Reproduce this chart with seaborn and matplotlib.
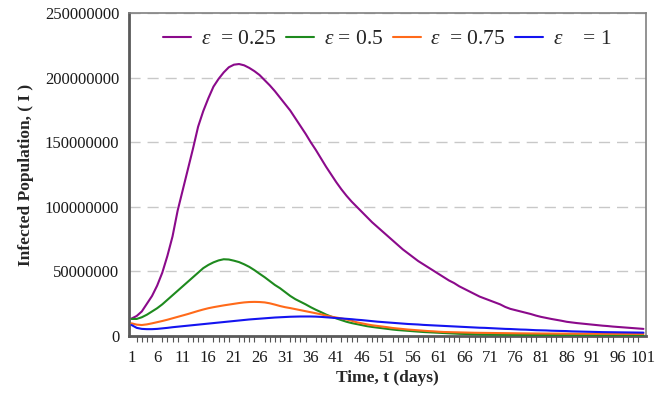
import matplotlib
matplotlib.use("Agg")
import matplotlib.pyplot as plt
import seaborn as sns
import pandas as pd
import numpy as np
from matplotlib.ticker import FixedLocator, FuncFormatter

# ---- data (values in millions) ----
days = list(range(1, 102))

eps_025 = [13.5, 15.5, 19, 25, 31, 39, 49, 62, 77, 97,
           113, 129, 145, 162, 174, 184, 193, 199, 204, 208,
           210, 210.5, 209.5, 207.5, 205, 202, 198, 194, 189.5, 184.5,
           179.5, 174.5, 168.5, 162.5, 156.5, 150, 144, 137.5, 131, 125,
           119, 113.5, 108.5, 104, 100, 96, 92, 88, 84.5, 81,
           77.5, 74, 70.5, 67, 64, 61, 58, 55.5, 53, 50.5,
           48, 45.5, 43, 41, 38.5, 36.5, 34.5, 32.5, 30.5, 29,
           27.5, 26, 24.5, 22.5, 21, 20, 19, 18, 17, 15.8,
           14.8, 14, 13.2, 12.5, 11.8, 11, 10.5, 10, 9.6, 9.2,
           8.8, 8.4, 8, 7.7, 7.3, 7, 6.7, 6.4, 6.1, 5.8, 5.5]

eps_05 = [13.2, 13.2, 14.5, 16.5, 19, 21.5, 24.5, 28, 31.5, 35,
          38.5, 42, 45.5, 49, 52.5, 55, 57, 58.5, 59.4, 59.2,
          58.3, 57.2, 55.5, 53.5, 51, 48.2, 45.5, 42.5, 39.5, 37,
          34, 31, 28.5, 26.5, 24.5, 22.3, 20.3, 18.5, 16.6, 15,
          13.6, 12.3, 11, 10, 9.2, 8.4, 7.6, 7, 6.5, 6,
          5.5, 5, 4.6, 4.3, 4, 3.7, 3.4, 3.1, 2.9, 2.7,
          2.5, 2.3, 2.1, 1.9, 1.7, 1.6, 1.5, 1.4, 1.3, 1.2,
          1.15, 1.1, 1.05, 1.0, 0.95, 0.9, 0.88, 0.85, 0.82, 0.8,
          0.78, 0.75, 0.72, 0.7, 0.68, 0.66, 0.64, 0.62, 0.6, 0.58,
          0.56, 0.54, 0.52, 0.5, 0.49, 0.48, 0.47, 0.46, 0.45, 0.44, 0.43]

eps_075 = [9.8, 8.8, 8.5, 9, 9.8, 10.7, 11.6, 12.6, 13.7, 14.8,
           15.9, 17, 18.2, 19.4, 20.5, 21.5, 22.3, 23, 23.7, 24.3,
           24.9, 25.5, 26, 26.3, 26.4, 26.3, 26, 25.3, 24.3, 23.2,
           22.3, 21.6, 20.8, 20, 19.2, 18.4, 17.6, 16.8, 15.8, 15,
           14.3, 13.6, 12.8, 11.8, 10.6, 9.8, 9, 8.3, 7.8, 7.3,
           6.8, 6.2, 5.8, 5.4, 5, 4.7, 4.4, 4.1, 3.8, 3.6,
           3.3, 3.1, 3.0, 2.9, 2.8, 2.7, 2.6, 2.5, 2.45, 2.4,
           2.35, 2.3, 2.25, 2.2, 2.15, 2.1, 2.06, 2.02, 1.98, 1.95,
           1.92, 1.9, 1.88, 1.86, 1.84, 1.82, 1.8, 1.78, 1.76, 1.74,
           1.72, 1.7, 1.69, 1.68, 1.67, 1.66, 1.65, 1.64, 1.63, 1.62, 1.61]

eps_1 = [8.5, 6.3, 5.5, 5.3, 5.3, 5.5, 5.9, 6.3, 6.8, 7.2,
         7.6, 8, 8.4, 8.8, 9.2, 9.6, 10, 10.4, 10.8, 11.2,
         11.6, 12, 12.4, 12.8, 13.1, 13.4, 13.7, 14, 14.3, 14.5,
         14.7, 14.9, 15, 15.1, 15.1, 15.1, 15, 14.8, 14.5, 14.2,
         13.9, 13.6, 13.3, 13, 12.6, 12.3, 11.9, 11.5, 11.1, 10.8,
         10.5, 10.2, 9.9, 9.6, 9.3, 9.1, 8.9, 8.6, 8.4, 8.2,
         8, 7.8, 7.6, 7.4, 7.2, 7.0, 6.8, 6.6, 6.4, 6.3,
         6.1, 5.9, 5.7, 5.5, 5.4, 5.2, 5.0, 4.9, 4.7, 4.5,
         4.4, 4.3, 4.1, 4.0, 3.9, 3.8, 3.6, 3.5, 3.4, 3.3,
         3.2, 3.1, 3.0, 2.95, 2.9, 2.85, 2.8, 2.75, 2.7, 2.65, 2.6]

series_labels = [r"$\varepsilon$  = 0.25", r"$\varepsilon$ = 0.5",
                 r"$\varepsilon$  = 0.75", r"$\varepsilon$    = 1"]
colors = ["#8B0A8B", "#1E8A1E", "#FF6A1A", "#1414F0"]
yticks = [0, 50000000, 100000000, 150000000, 200000000, 250000000]
xtick_labels = list(range(1, 102, 5))

# ---- build long table ----
frames = []
for lab, vals in zip(series_labels, [eps_025, eps_05, eps_075, eps_1]):
    frames.append(pd.DataFrame({"t": days, "I": np.array(vals) * 1e6, "s": lab}))
df = pd.concat(frames, ignore_index=True)

sns.set_theme(style="white")
plt.rcParams["font.family"] = ["Liberation Serif", "DejaVu Serif"]
plt.rcParams["mathtext.fontset"] = "custom"
plt.rcParams["mathtext.it"] = "Liberation Serif:italic"
plt.rcParams["mathtext.rm"] = "Liberation Serif"

fig = plt.figure(figsize=(6.72, 3.94), dpi=100)
ax = fig.add_axes([129 / 672, 1 - 336 / 394, (646 - 129) / 672, (336 - 13) / 394])

sns.lineplot(data=df, x="t", y="I", hue="s", palette=colors, linewidth=1.5,
             ax=ax, legend=True, zorder=3)

ax.set_xlim(0.5, 101.5)
ax.set_ylim(0, 250000000)
ax.yaxis.set_major_locator(FixedLocator(yticks))
ax.yaxis.set_major_formatter(FuncFormatter(lambda v, p: f"{int(round(v))}"))
ax.xaxis.set_major_locator(FixedLocator(xtick_labels))
ax.xaxis.set_minor_locator(FixedLocator(days))
ax.xaxis.set_major_formatter(FuncFormatter(lambda v, p: f"{int(round(v))}"))

ax.tick_params(axis="both", which="both", direction="out", color="#555555",
               labelsize=12, labelcolor="#1a1a1a")
ax.tick_params(axis="y", length=4, width=1.2, pad=3)
ax.tick_params(axis="x", which="both", length=4, width=0.8, pad=6)
ax.tick_params(axis="x", which="minor", bottom=True)

ax.grid(False)
ax.yaxis.grid(True, linestyle=(0, (8, 5)), color="#c8c8c8", linewidth=1.0)
ax.set_axisbelow(True)

for side in ["left", "bottom"]:
    ax.spines[side].set_color("#5a5a5a")
    ax.spines[side].set_linewidth(2)
for side in ["top", "right"]:
    ax.spines[side].set_color("#808080")
    ax.spines[side].set_linewidth(1.2)

ax.set_xlabel("Time, t (days)", fontsize=12.5, fontweight="bold", labelpad=3)
ax.set_ylabel("Infected Population, ( I )", fontsize=12.5, fontweight="bold", labelpad=8)

ax.legend(loc="upper center", bbox_to_anchor=(0.5, 0.99), ncol=4, frameon=False,
          fontsize=15.5, handlelength=1.3, handletextpad=0.45, columnspacing=0.45,
          borderaxespad=0.2)

fig.savefig("out.png", dpi=100)
